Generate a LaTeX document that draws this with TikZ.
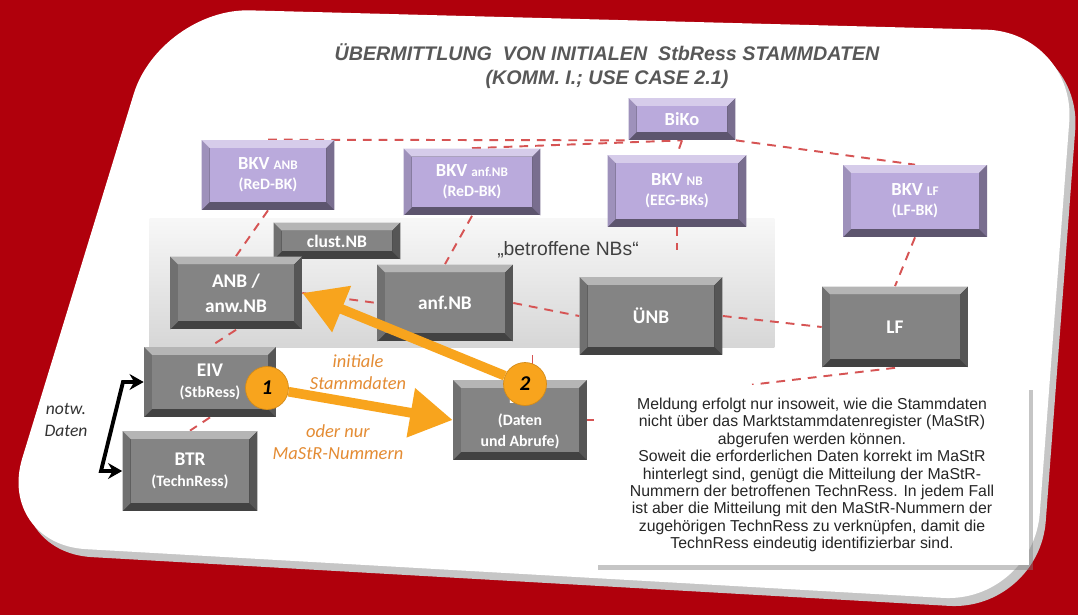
\documentclass[tikz,border=0pt]{standalone}
\usepackage{fontspec}
\setmainfont{Liberation Sans}
\setsansfont{Carlito}
\usetikzlibrary{arrows.meta,calc,shadows}
\definecolor{bgred}{RGB}{176,0,12}
\definecolor{linkred}{RGB}{214,84,84}
\definecolor{pfeilorange}{RGB}{248,164,29}
\definecolor{textorange}{RGB}{228,140,52}
\definecolor{boxgrau}{RGB}{132,132,132}
\definecolor{boxlila}{RGB}{186,170,220}
\definecolor{titelgrau}{RGB}{88,88,88}
\pgfdeclarelayer{hintergrund}
\pgfdeclarelayer{linien}
\pgfsetlayers{hintergrund,linien,main}
\newcommand{\klein}[1]{{\fontsize{7.5}{9}\selectfont #1}}
\newcommand{\zweit}[1]{{\fontsize{9}{10}\selectfont #1}}
\tikzset{
    bevel/.style = {
    fill=#1!50!black, text=white, align=center, inner sep=1pt,
    path picture={
      \coordinate (ul) at (path picture bounding box.south west);
      \coordinate (or) at (path picture bounding box.north east);
      \coordinate (ol) at (path picture bounding box.north west);
      \coordinate (ur) at (path picture bounding box.south east);
      \fill[#1!85!black] (ol) -- ($(ol)+(8,8)$) -- ($(ul)+(8,-8)$) -- (ul) -- cycle;
      \fill[#1!60!white] (ol) -- (or) -- ($(or)+(-8,8)$) -- ($(ol)+(8,8)$) -- cycle;
      \fill[#1!65!black] (or) -- (ur) -- ($(ur)+(-8,-8)$) -- ($(or)+(-8,8)$) -- cycle;
      \fill[#1] ($(ol)+(8,8)$) rectangle ($(ur)+(-8,-8)$);
    }},
    grau/.style = {bevel=boxgrau, font=\sffamily\bfseries\fontsize{11}{12}\selectfont},
    lila/.style = {bevel=boxlila, font=\sffamily\bfseries\fontsize{10.5}{11.5}\selectfont},
    link/.style = {draw=linkred, dash pattern=on 5pt off 4pt, line width=1.1pt, line cap=butt},
    orangepfeil/.style = {draw=pfeilorange, line width=5.5pt, line cap=butt,
      -{Triangle[length=0.85cm, width=0.95cm]}},
    nummer/.style = {circle, fill=pfeilorange, draw=pfeilorange!85!black, minimum size=0.86cm,
      inner sep=0pt, text=black, font=\sffamily\bfseries\itshape\fontsize{12}{12}\selectfont},
    orangetext/.style = {text=textorange, align=center, font=\sffamily\itshape\fontsize{10.5}{12.5}\selectfont},
    notw/.style = {draw=black, line width=2.2pt, line join=miter,
      {Stealth[length=8pt, width=9pt]}-{Stealth[length=8pt, width=9pt]}}
}

\begin{document}
\begin{tikzpicture}[x=0.02cm, y=-0.02cm, line cap=round, line join=round]
\useasboundingbox (0,0) rectangle (1078,615);

\begin{pgfonlayer}{hintergrund}
\fill[bgred] (0,0) rectangle (1078,615);
% Karte
\fill[gray!45, rounded corners=1.8cm] (166,16) -- (1082,40) -- (1039,611) -- (2,552) -- cycle;
\fill[white, rounded corners=1.8cm] (160,8) -- (1076,32) -- (1033,603) -- (-4,544) -- cycle;
% betroffene NBs
\node (band) [minimum width=12.5cm, minimum height=2.6cm, inner sep=0pt,
  top color=gray!6, bottom color=gray!32] at (462,283) {};
\end{pgfonlayer}

\node (titel) [text=titelgrau, align=center, font=\bfseries\itshape\fontsize{11.2}{14}\selectfont]
  at (607,66) {ÜBERMITTLUNG\ \ VON INITIALEN\ \ StbRess STAMMDATEN\\(KOMM. I.; USE CASE 2.1)};

\node (biko) [lila, minimum width=2.14cm, minimum height=0.84cm] at (682,119) {BiKo};
\node (bkvanb) [lila, minimum width=2.66cm, minimum height=1.4cm] at (268,175) {BKV \klein{ANB}\\\zweit{(ReD-BK)}};
\node (bkvanf) [lila, minimum width=2.74cm, minimum height=1.34cm] at (472,182) {BKV \klein{anf.NB}\\\zweit{(ReD-BK)}};
\node (bkvnb) [lila, minimum width=2.78cm, minimum height=1.44cm] at (677,191) {BKV \klein{NB}\\\zweit{(EEG-BKs)}};
\node (bkvlf) [lila, minimum width=2.88cm, minimum height=1.44cm] at (915,201) {BKV \klein{LF}\\\zweit{(LF-BK)}};

\node (betr) [text=black!75, font=\fontsize{11}{13}\selectfont] at (568,250) {„betroffene NBs“};
\node (clustnb) [grau, minimum width=2.54cm, minimum height=0.74cm, font=\sffamily\bfseries\fontsize{10}{12}\selectfont] at (337,241) {clust.NB};
\node (anb) [grau, minimum width=2.64cm, minimum height=1.46cm] at (236,293) {ANB /\\[2pt]anw.NB};
\node (anfnb) [grau, minimum width=2.72cm, minimum height=1.54cm] at (445,303) {anf.NB};
\node (unb) [grau, minimum width=2.86cm, minimum height=1.56cm] at (651,316) {ÜNB};
\node (lf) [grau, minimum width=2.92cm, minimum height=1.62cm] at (895,327) {LF};

\node (eiv) [grau, minimum width=2.64cm, minimum height=1.4cm] at (210,382) {EIV\\\zweit{(StbRess)}};
\node (btr) [grau, minimum width=2.7cm, minimum height=1.6cm] at (190,471) {BTR\\\zweit{(TechnRess)}};
\node (dp) [grau, minimum width=2.68cm, minimum height=1.6cm] at (520,420) {DP\\\zweit{(Daten}\\\zweit{und Abrufe)}};

\node (notiz) [fill=white, drop shadow={opacity=0.45, shadow xshift=2pt, shadow yshift=-3pt},
  minimum width=8.7cm, minimum height=3.6cm, align=center, text=black!85,
  font=\fontsize{9}{9.9}\selectfont] at (812,475)
  {Meldung erfolgt nur insoweit, wie die Stammdaten\\
   nicht über das Marktstammdatenregister (MaStR)\\
   abgerufen werden können.\\
   Soweit die erforderlichen Daten korrekt im MaStR\\
   hinterlegt sind, genügt die Mitteilung der MaStR-\\
   Nummern der betroffenen TechnRess. In jedem Fall\\
   ist aber die Mitteilung mit den MaStR-Nummern der\\
   zugehörigen TechnRess zu verknüpfen, damit die\\
   TechnRess eindeutig identifizierbar sind.};

\begin{pgfonlayer}{linien}
\draw[link] (bkvanb.north) -- (biko.south west);
\draw[link] (bkvanf.north) -- (biko.south);
\draw[link] (biko.south) -- (bkvnb.north);
\draw[link] (biko.south east) -- (bkvlf.north);
\draw[link] (bkvanb.south) -- (anb.north);
\draw[link] (bkvanf.south) -- (anfnb.north);
\draw[link] (bkvnb.south) -- (bkvnb.south |- betr.center);
\draw[link] (bkvlf.south) -- (lf.north);
\draw[link] (anb.east) -- (anfnb.west);
\draw[link] (anfnb.east) -- (unb.west);
\draw[link] (unb.east) -- (lf.west);
\draw[link] (anb.south) -- (eiv.north);
\draw[link] (eiv.south) -- (btr.north);
\draw[link] ([xshift=0.25cm]dp.north) -- ([xshift=0.25cm]dp.north |- band.south);
\draw[link] (dp.east) -- (dp.east -| notiz.west);
\draw[link] (lf.south) -- ([xshift=-1.2cm]notiz.north);
\end{pgfonlayer}

% Uebermittlung
\node (nr1) [nummer] at (267,388) {1};
\node (nr2) [nummer] at (525,384) {2};
\draw[orangepfeil] (nr1) -- (dp.west);
\draw[orangepfeil] (nr2) -- (anb.east);

\node (txtinit) [orangetext] at (358,372) {initiale\\Stammdaten};
\node (txtnur) [orangetext] at (338,442) {oder nur\\MaStR-Nummern};

\coordinate (knickoben) at (123,0);
\coordinate (knickunten) at (101,0);
\draw[notw] (eiv.west) -- (eiv.west -| knickoben) -- (btr.west -| knickunten) -- (btr.west);
\node (notwtxt) [align=center, text=black!80, font=\sffamily\itshape\fontsize{10}{12}\selectfont] at (66,420) {notw.\\Daten};
\end{tikzpicture}
\end{document}
